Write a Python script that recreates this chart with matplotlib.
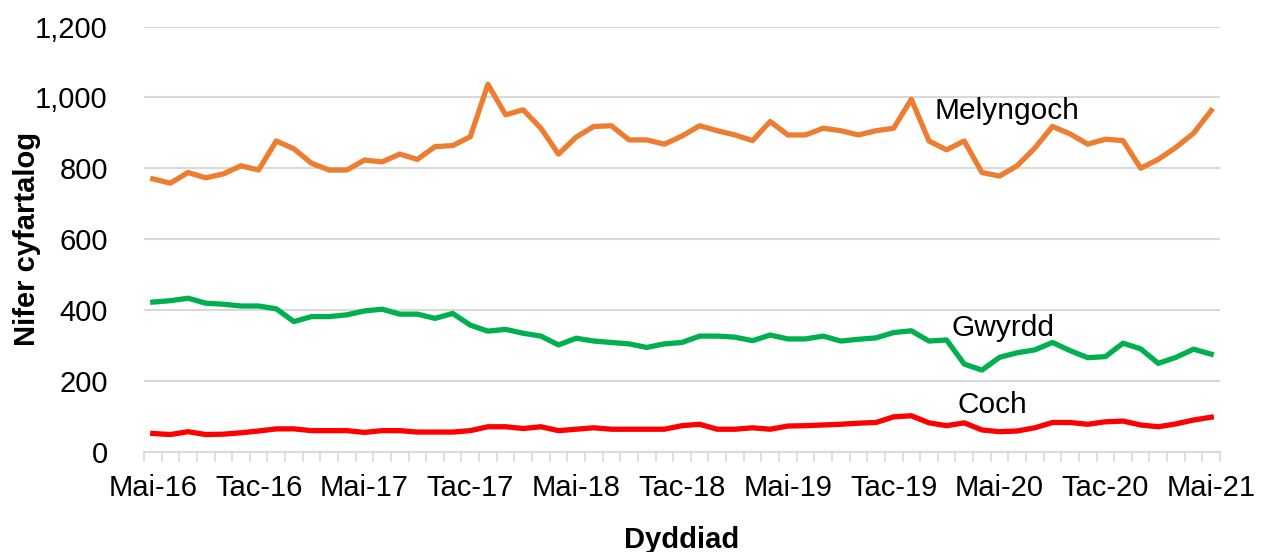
import numpy as np
import matplotlib
matplotlib.use("Agg")
import matplotlib.pyplot as plt
from matplotlib.ticker import FuncFormatter

plt.rcParams['font.family'] = ['Liberation Sans', 'DejaVu Sans']

# monthly averages, May 2016 - May 2021
melyngoch = [770, 758, 788, 773, 784, 807, 795, 877, 855, 814,
             795, 795, 823, 818, 840, 825, 861, 864, 889, 1037,
             951, 965, 913, 840, 888, 918, 920, 880, 880, 868,
             891, 920, 906, 894, 878, 932, 894, 894, 913, 906,
             894, 906, 913, 995, 877, 852, 877, 788, 778, 807,
             857, 918, 897, 868, 882, 878, 800, 825, 859, 899, 963]
gwyrdd = [422, 426, 433, 419, 416, 411, 411, 403, 367, 381,
          381, 386, 397, 402, 388, 388, 376, 390, 357, 340,
          345, 334, 326, 301, 320, 312, 308, 304, 294, 304,
          308, 326, 326, 323, 313, 329, 318, 318, 326, 312,
          317, 321, 336, 341, 312, 315, 247, 230, 266, 279,
          287, 308, 285, 265, 268, 306, 290, 249, 266, 289, 275]
coch = [51, 48, 56, 48, 49, 53, 58, 64, 64, 59,
        59, 59, 54, 59, 59, 55, 55, 55, 59, 70,
        70, 65, 70, 59, 63, 67, 63, 63, 63, 63,
        73, 77, 63, 63, 67, 63, 72, 73, 75, 77,
        80, 82, 98, 101, 81, 73, 81, 61, 56, 58,
        67, 82, 82, 77, 84, 86, 75, 70, 78, 89, 97]
tick_labels = ["Mai-16", "Tac-16", "Mai-17", "Tac-17", "Mai-18", "Tac-18",
               "Mai-19", "Tac-19", "Mai-20", "Tac-20", "Mai-21"]

x = np.arange(len(melyngoch))
grid_col = "#d9d9d9"

fig = plt.figure(figsize=(12.66, 5.52), dpi=100)
ax = fig.add_axes([0.1137, 0.182, 0.850, 0.7698])

ax.plot(x, melyngoch, color="#ED7D31", lw=3.8, solid_joinstyle="round", zorder=3)
ax.plot(x, gwyrdd, color="#00B050", lw=3.8, solid_joinstyle="round", zorder=3)
ax.plot(x, coch, color="#FF0000", lw=3.8, solid_joinstyle="round", zorder=3)

ax.text(44.3, 962, "Melyngoch", fontsize=21.5, va="center", ha="left")
ax.text(45.3, 349, "Gwyrdd", fontsize=21.5, va="center", ha="left")
ax.text(45.6, 131, "Coch", fontsize=21.5, va="center", ha="left")

ax.set_xlim(-0.5, len(x) - 0.5)
ax.set_ylim(0, 1200)
ax.set_yticks(range(0, 1201, 200))
ax.yaxis.set_major_formatter(FuncFormatter(lambda v, p: f"{int(v):,}"))
ax.grid(axis="y", color=grid_col, lw=1.5, zorder=0)

ax.set_xticks(x[::6])
ax.set_xticklabels(tick_labels)
ax.set_xticks(np.arange(-0.5, len(x), 1.0), minor=True)
ax.tick_params(axis="x", which="major", length=0, pad=16, labelsize=21)
ax.tick_params(axis="x", which="minor", length=7, width=1.2, color=grid_col)
ax.tick_params(axis="y", length=0, pad=26, labelsize=21)

for s in ["top", "right", "left"]:
    ax.spines[s].set_visible(False)
ax.spines["bottom"].set_color(grid_col)
ax.spines["bottom"].set_linewidth(1.5)

ax.set_ylabel("Nifer cyfartalog", fontsize=21, fontweight="bold")
ax.yaxis.set_label_coords(-0.096, 0.5)
ax.set_xlabel("Dyddiad", fontsize=21, fontweight="bold")
ax.xaxis.set_label_coords(0.5, -0.175)

fig.savefig("out.png", dpi=100)
